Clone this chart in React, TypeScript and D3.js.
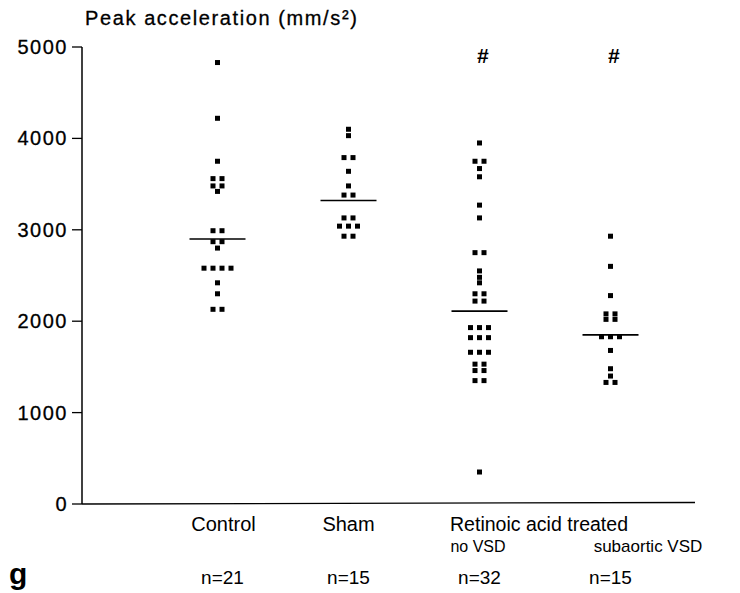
import React from "react";
import * as d3 from "d3";

const groups = ["Control", "Sham", "RA no VSD", "RA subaortic VSD"];
const controlValues = [4830, 4220, 3750, 3560, 3560, 3480, 3480, 3420, 2990, 2990, 2870, 2870, 2800, 2580, 2580, 2580, 2580, 2420, 2300, 2130, 2130];
const shamValues = [4100, 4030, 3790, 3790, 3640, 3480, 3380, 3380, 3130, 3130, 3040, 3040, 3040, 2930, 2930];
const raNoVsdValues = [3950, 3750, 3750, 3670, 3580, 3270, 3130, 2750, 2750, 2550, 2480, 2420, 2300, 2300, 2220, 2220, 1930, 1930, 1930, 1820, 1820, 1820, 1660, 1660, 1660, 1530, 1530, 1460, 1460, 1350, 1350, 350];
const raVsdValues = [2930, 2600, 2280, 2080, 2080, 2020, 2020, 1830, 1830, 1830, 1680, 1480, 1400, 1330, 1330];
const means = [2900, 3320, 2110, 1850];
const significant = [false, false, true, true];
const yTicks = [0, 1000, 2000, 3000, 4000, 5000];
const nLabels = ["n=21", "n=15", "n=32", "n=15"];

const allValues = [controlValues, shamValues, raNoVsdValues, raVsdValues];

export default function App() {
  const W = 740, H = 593;
  const y = d3.scaleLinear().domain([0, 5000]).range([504, 47]);
  const x = d3.scaleBand().domain(groups).range([152, 676]);
  const cx = (g: string) => (x(g) as number) + x.bandwidth() / 2;
  const spacing = 9;
  const sz = 5;

  const pts: { x: number; y: number }[] = [];
  allValues.forEach((vals, gi) => {
    const counts = d3.rollup(vals, (v) => v.length, (v) => v);
    counts.forEach((n, v) => {
      for (let i = 0; i < n; i++) {
        pts.push({ x: cx(groups[gi]) + (i - (n - 1) / 2) * spacing, y: y(v) });
      }
    });
  });

  const sans = "'Liberation Sans', Arial, sans-serif";

  return (
    <svg width={W} height={H} style={{ position: "absolute", left: 0, top: 0, background: "#fff" }}>
      <text x={85} y={25} fontFamily={sans} fontSize={20} letterSpacing={1.6} stroke="#000" strokeWidth={0.3}>Peak acceleration (mm/s²)</text>
      {/* axes */}
      <line x1={82} x2={82} y1={y(5000)} y2={y(0)} stroke="#000" strokeWidth={1.5} />
      <line x1={82} x2={695} y1={y(0)} y2={y(0) - 1.5} stroke="#000" strokeWidth={1.3} />
      {yTicks.map((t) => (
        <g key={t}>
          <line x1={72} x2={82} y1={y(t)} y2={y(t)} stroke="#000" strokeWidth={1.3} />
          <text x={68} y={y(t) + 7} textAnchor="end" fontFamily={sans} fontSize={20} letterSpacing={1.5} stroke="#000" strokeWidth={0.3}>{t}</text>
        </g>
      ))}
      {/* points */}
      {pts.map((p, i) => (
        <rect key={i} x={p.x - sz / 2} y={p.y - sz / 2} width={sz} height={sz} fill="#000" />
      ))}
      {/* means */}
      {groups.map((g, i) => (
        <line key={g} x1={cx(g) - 28} x2={cx(g) + 28} y1={y(means[i])} y2={y(means[i])} stroke="#000" strokeWidth={1.6} />
      ))}
      {groups.map((g, i) =>
        significant[i] ? (
          <text key={g} x={cx(g) + 3} y={63} textAnchor="middle" fontFamily={sans} fontSize={21} fontWeight="bold" fontStyle="italic">#</text>
        ) : null
      )}
      {/* labels */}
      <text x={cx(groups[0]) + 6} y={531} textAnchor="middle" fontFamily={sans} fontSize={20}>Control</text>
      <text x={cx(groups[1])} y={531} textAnchor="middle" fontFamily={sans} fontSize={20}>Sham</text>
      <text x={450} y={531} fontFamily={sans} fontSize={20} textLength={178} lengthAdjust="spacingAndGlyphs">Retinoic acid treated</text>
      <text x={478} y={552} textAnchor="middle" fontFamily={sans} fontSize={16}>no VSD</text>
      <text x={648} y={552} textAnchor="middle" fontFamily={sans} fontSize={17}>subaortic VSD</text>
      <text x={9} y={584} fontFamily={sans} fontSize={30} fontWeight="bold">g</text>
      {groups.map((g, i) => (
        <text key={g} x={cx(g) + (i === 0 ? 5 : 0)} y={584} textAnchor="middle" fontFamily={sans} fontSize={19}>{nLabels[i]}</text>
      ))}
    </svg>
  );
}
